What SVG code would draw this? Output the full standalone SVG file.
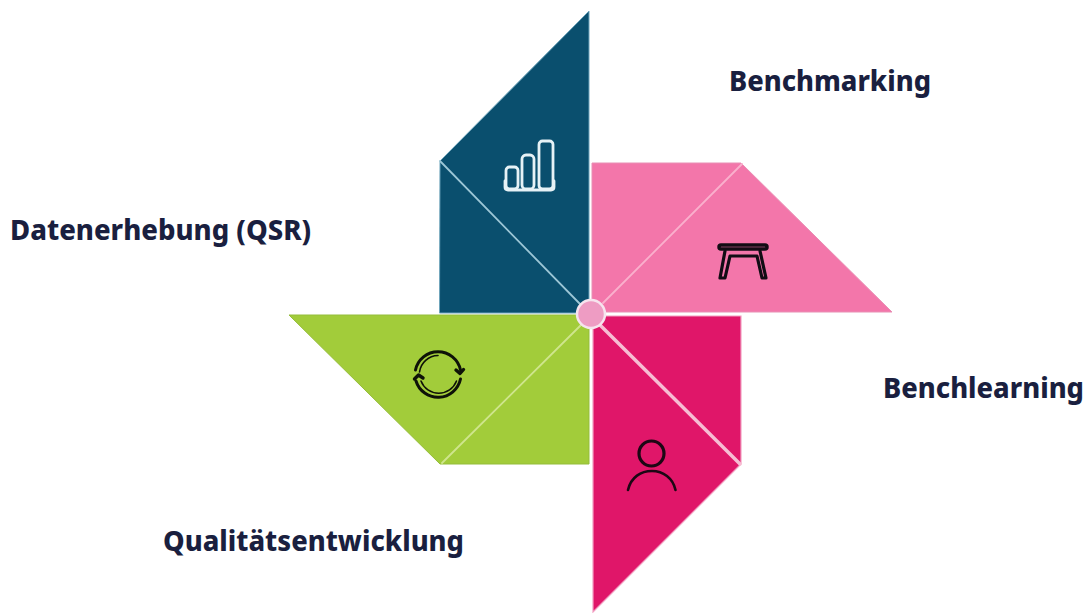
<svg xmlns="http://www.w3.org/2000/svg" width="1086" height="613" viewBox="0 0 1086 613">
<style>
.lbl{font-family:"Noto Sans","Open Sans","Liberation Sans",sans-serif;font-weight:800;font-size:27.500px;fill:#1a1f3f}
.fold{fill:none;stroke-linecap:round}
.ic{fill:none;stroke-linecap:round;stroke-linejoin:round}
</style>
<rect width="1086" height="613" fill="#fff"/>
<g id="blade-datenerhebung">
<polygon points="589,11 589,313 439.500,313 440,161" fill="#0a4f6e" stroke="#6da4bb" stroke-width="1"/>
<path class="fold" d="M440,161L582,306" stroke="#9cc6d6" stroke-width="1.800"/>
<g class="ic" stroke="#e6f2f6" stroke-width="2.800">
<rect x="506" y="167" width="12" height="22" rx="3.500"/>
<rect x="522" y="155" width="12" height="34" rx="4"/>
<rect x="539" y="141" width="14" height="48" rx="3.500"/>
<path d="M505,181V187Q505,190 508,190H551Q554,190 554,187V181"/>
</g>
</g>
<g id="blade-benchmarking">
<polygon points="592,163 741,163 892,312 592,312" fill="#f376aa" stroke="#e88fb4" stroke-width="1"/>
<path class="fold" d="M603,303L742,164" stroke="#fab0cd" stroke-width="1.800"/>
<g class="ic" stroke="#120c14">
<rect x="719" y="245" width="48" height="4" rx="2" stroke-width="3.500"/>
<path d="M725,251L720,278H725L730,256H757L762,278H766L760,251" stroke-width="3.200"/>
</g>
</g>
<g id="blade-qualitaet">
<polygon points="289,315 589,315 589,464 440,464" fill="#a2cc3a" stroke="#94bd3a" stroke-width="1"/>
<path class="fold" d="M442,463L582,324" stroke="#cfe58d" stroke-width="1.800"/>
<g class="ic" stroke="#0e1208">
<path d="M415.500,370A23,23 0 0 1 460.500,370" stroke-width="3"/>
<path d="M419.500,372A19,19 0 0 1 438,355.500" stroke-width="1.600"/>
<path d="M460.500,379A23,23 0 0 1 416,381" stroke-width="3"/>
<path d="M456.500,381A19,19 0 0 1 421,381" stroke-width="1.600"/>
<path d="M456,370L460,373.500L463.500,369.500" stroke-width="3.400"/>
<path d="M414.500,379L418.500,375L423,378" stroke-width="3.400"/>
</g>
</g>
<g id="blade-benchlearning">
<polygon points="593,316 741,316 741,464 593,612" fill="#e01669" stroke="#f2a0c2" stroke-width="1.200"/>
<path class="fold" d="M600,325L740,464" stroke="#f7bdd3" stroke-width="3.500"/>
<g class="ic" stroke="#1c0714">
<circle cx="651.500" cy="453.500" r="12.500" stroke-width="3.200"/>
<path d="M628,490C631,477 641,471 652,471C663,471 673,478 675.500,490" stroke-width="2.600"/>
</g>
</g>
<g id="hub"><circle cx="591" cy="314" r="14" fill="#ee9cc3" stroke="#f6e4ee" stroke-width="2.500"/></g>
<g id="connectors"></g>
<g id="labels">
<text id="t1" class="lbl" x="729" y="91" textLength="202" lengthAdjust="spacingAndGlyphs">Benchmarking</text>
<text id="t2" class="lbl" x="10" y="240" textLength="301" lengthAdjust="spacingAndGlyphs">Datenerhebung (QSR)</text>
<text id="t3" class="lbl" x="883" y="398" textLength="201" lengthAdjust="spacingAndGlyphs">Benchlearning</text>
<text id="t4" class="lbl" x="163" y="551" textLength="301" lengthAdjust="spacingAndGlyphs">Qualitätsentwicklung</text>
</g>
</svg>
